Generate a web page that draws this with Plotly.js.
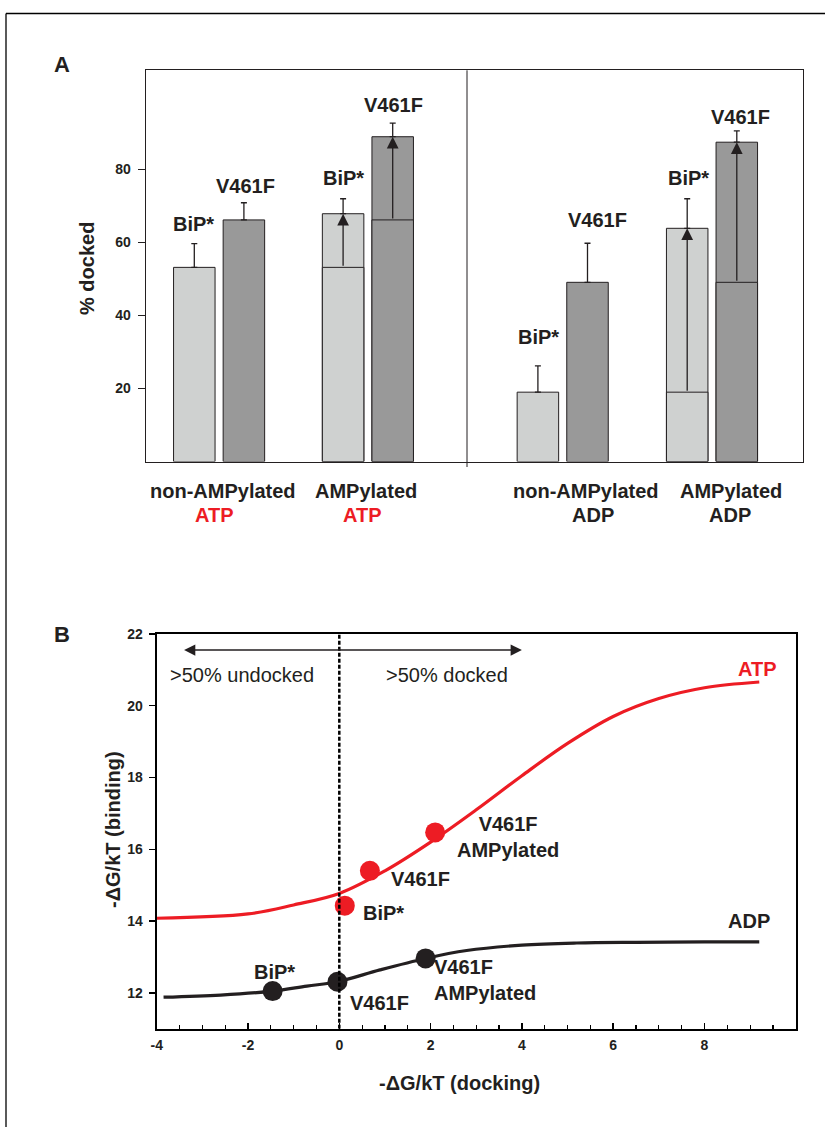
<!DOCTYPE html>
<html>
<head>
<meta charset="utf-8">
<script src="https://cdn.plot.ly/plotly-3.0.1.min.js"></script>
<style>html,body{margin:0;padding:0;background:#fff;}#chart{width:825px;height:1127px;}</style>
</head>
<body>
<div id="chart"></div>
<script>
// ---------------- DATA: panel A ----------------
const barLabels = ['BiP*', 'V461F', 'BiP*', 'V461F', 'BiP*', 'V461F', 'BiP*', 'V461F'];
const groupNames = ['non-AMPylated', 'AMPylated', 'non-AMPylated', 'AMPylated'];
const groupNucleotide = ['ATP', 'ATP', 'ADP', 'ADP'];
const dockedPct = [53.2, 66.2, 67.9, 89.0, 19.0, 49.1, 63.9, 87.5];
const dockedErrTop = [59.7, 70.9, 72.0, 92.7, 26.2, 59.8, 72.0, 90.6];
const dockedBefore = [null, null, 53.2, 66.2, null, null, 19.0, 49.1];
const yTicksA = [20, 40, 60, 80];

// ---------------- DATA: panel B ----------------
const atpCurveX = [-4.0, -2.0, -1.0, 0.0, 1.0, 2.0, 3.0, 4.0, 5.0, 6.0, 7.0, 8.0, 9.2];
const atpCurveY = [14.08, 14.2, 14.45, 14.77, 15.4, 16.2, 17.1, 18.05, 18.95, 19.7, 20.2, 20.5, 20.66];
const adpCurveX = [-3.85, -2.6, -1.46, -0.71, -0.04, 0.89, 1.89, 2.79, 4.0, 5.2, 6.5, 8.0, 9.2];
const adpCurveY = [11.88, 11.94, 12.05, 12.19, 12.31, 12.64, 12.96, 13.18, 13.33, 13.39, 13.41, 13.42, 13.42];
const pointLabels = ['BiP*', 'V461F', 'V461F<br>AMPylated'];
const atpPointX = [0.12, 0.67, 2.10];
const atpPointY = [14.43, 15.40, 16.47];
const adpPointX = [-1.46, -0.04, 1.89];
const adpPointY = [12.05, 12.31, 12.96];
const xTicksB = [-4, -2, 0, 2, 4, 6, 8];
const yTicksB = [12, 14, 16, 18, 20, 22];

// ---------------- LAYOUT constants ----------------
const W = 825, H = 1127;
const fx = px => px / W, fy = py => 1 - py / H;
const FONT = 'Liberation Sans, Arial, Helvetica, sans-serif';
const INK = '#231f20', RED = '#ed1c24';
const LIGHT = '#cfd1d0', DARK = '#999999';
const groupCenter = [73.4, 222.2, 417.0, 566.3];
const pairOffset = 24.8, barWidth = 41.5;
const barX = barLabels.map((_, i) => groupCenter[Math.floor(i / 2)] + (i % 2 === 0 ? -pairOffset : pairOffset));
const barColor = barLabels.map((_, i) => i % 2 === 0 ? LIGHT : DARK);
const labelLift = [20, 17, 21, 18, 29, 23, 21, 14];
const labelShiftX = [-1, 2, 0, 1, 1, 10, 1, 4];

const traces = [];
traces.push({
  type: 'bar', x: barX, y: dockedPct, width: barWidth, xaxis: 'x', yaxis: 'y',
  marker: {color: barColor, line: {color: INK, width: 1}},
  error_y: {type: 'data', symmetric: false,
    array: dockedErrTop.map((e, i) => e - dockedPct[i]),
    arrayminus: dockedPct.map(() => 0),
    color: INK, thickness: 1.3, width: 3},
  hoverinfo: 'skip'
});
const baseIdx = dockedBefore.map((v, i) => v === null ? -1 : i).filter(i => i >= 0);
traces.push({
  type: 'bar', x: baseIdx.map(i => barX[i]), y: baseIdx.map(i => dockedBefore[i]), width: barWidth,
  xaxis: 'x', yaxis: 'y',
  marker: {color: baseIdx.map(i => barColor[i]), line: {color: INK, width: 1}},
  hoverinfo: 'skip'
});
// panel B
traces.push({type: 'scatter', mode: 'lines', x: atpCurveX, y: atpCurveY, xaxis: 'x2', yaxis: 'y2',
  line: {color: RED, width: 3.2, shape: 'spline', smoothing: 1}, hoverinfo: 'skip'});
traces.push({type: 'scatter', mode: 'lines', x: adpCurveX, y: adpCurveY, xaxis: 'x2', yaxis: 'y2',
  line: {color: INK, width: 3.2, shape: 'spline', smoothing: 1}, hoverinfo: 'skip'});
traces.push({type: 'scatter', mode: 'markers', x: atpPointX, y: atpPointY, xaxis: 'x2', yaxis: 'y2',
  marker: {color: RED, size: 20}, hoverinfo: 'skip'});
traces.push({type: 'scatter', mode: 'markers', x: adpPointX, y: adpPointY, xaxis: 'x2', yaxis: 'y2',
  marker: {color: INK, size: 20}, hoverinfo: 'skip'});

const ann = [];
const txt = (o) => Object.assign({showarrow: false, xanchor: 'center', yanchor: 'middle',
  font: {family: FONT, size: 20, color: INK}}, o);
// panel letters
ann.push(txt({xref: 'paper', yref: 'paper', x: fx(62), y: fy(64), text: '<b>A</b>', font: {family: FONT, size: 22, color: INK}}));
ann.push(txt({xref: 'paper', yref: 'paper', x: fx(62), y: fy(634), text: '<b>B</b>', font: {family: FONT, size: 22, color: INK}}));
// A labels above bars
barLabels.forEach((t, i) => {
  ann.push(txt({xref: 'x', yref: 'y', x: barX[i], y: dockedErrTop[i], yshift: labelLift[i],
    xshift: labelShiftX[i], text: '<b>' + t + '</b>'}));
});
// A arrows
baseIdx.forEach(i => {
  ann.push({xref: 'x', yref: 'y', axref: 'x', ayref: 'y', x: barX[i], y: dockedPct[i], ax: barX[i], ay: dockedBefore[i],
    showarrow: true, arrowhead: 2, arrowsize: 1.8, arrowwidth: 1.3, arrowcolor: INK, standoff: 0, text: ''});
});
// A group labels
const nameShift = [4, -2, 23, 19], nucShift = [-5, -5, 30, 18];
groupNames.forEach((g, k) => {
  ann.push(txt({xref: 'x', yref: 'paper', x: groupCenter[k], y: fy(491), xshift: nameShift[k], text: '<b>' + g + '</b>'}));
  ann.push(txt({xref: 'x', yref: 'paper', x: groupCenter[k], y: fy(515), xshift: nucShift[k],
    text: '<b>' + groupNucleotide[k] + '</b>', font: {family: FONT, size: 20, color: groupNucleotide[k] === 'ATP' ? RED : INK}}));
});
// A y title
ann.push(txt({xref: 'paper', yref: 'paper', x: fx(87), y: fy(269), textangle: -90, text: '<b>% docked</b>'}));

// B labels
ann.push(txt({xref: 'x2', yref: 'y2', x: 9.17, y: 21.02, text: '<b>ATP</b>', font: {family: FONT, size: 20, color: RED}}));
ann.push(txt({xref: 'x2', yref: 'y2', x: 8.97, y: 14.01, text: '<b>ADP</b>'}));
ann.push(txt({xref: 'x2', yref: 'y2', x: 0.96, y: 14.22, text: '<b>' + pointLabels[0] + '</b>'}));
ann.push(txt({xref: 'x2', yref: 'y2', x: 1.77, y: 15.16, text: '<b>' + pointLabels[1] + '</b>'}));
ann.push(txt({xref: 'x2', yref: 'y2', x: 3.70, y: 16.33, text: '<b>' + pointLabels[2] + '</b>'}));
ann.push(txt({xref: 'x2', yref: 'y2', x: -1.41, y: 12.59, text: '<b>' + pointLabels[0] + '</b>'}));
ann.push(txt({xref: 'x2', yref: 'y2', x: 0.89, y: 11.71, text: '<b>' + pointLabels[1] + '</b>'}));
ann.push(txt({xref: 'x2', yref: 'y2', x: 2.03, y: 12.37, xanchor: 'left', align: 'left', text: '<b>' + pointLabels[2] + '</b>'}));
ann.push(txt({xref: 'paper', yref: 'paper', x: fx(242), y: fy(675), text: '>50% undocked'}));
ann.push(txt({xref: 'paper', yref: 'paper', x: fx(447), y: fy(675), text: '>50% docked'}));
// double arrow
ann.push({xref: 'x2', yref: 'y2', axref: 'x2', ayref: 'y2', x: 4.0, y: 21.55, ax: -0.05, ay: 21.55, showarrow: true,
  arrowhead: 2, arrowsize: 1.5, arrowwidth: 1.5, arrowcolor: INK, standoff: 0, text: ''});
ann.push({xref: 'x2', yref: 'y2', axref: 'x2', ayref: 'y2', x: -3.4, y: 21.55, ax: 0.05, ay: 21.55, showarrow: true,
  arrowhead: 2, arrowsize: 1.5, arrowwidth: 1.5, arrowcolor: INK, standoff: 0, text: ''});
// B axis titles
ann.push(txt({xref: 'paper', yref: 'paper', x: fx(459), y: fy(1083), text: '<b>-ΔG/kT (docking)</b>'}));
ann.push(txt({xref: 'paper', yref: 'paper', x: fx(113), y: fy(830), textangle: -90, text: '<b>-ΔG/kT (binding)</b>'}));

const shapes = [
  // outer frame
  {type: 'line', xref: 'paper', yref: 'paper', x0: fx(6), x1: 1, y0: fy(13.5), y1: fy(13.5), line: {color: '#000', width: 1.3}},
  {type: 'line', xref: 'paper', yref: 'paper', x0: fx(6), x1: fx(6), y0: fy(13.5), y1: 0, line: {color: '#000', width: 1.3}},
  // A divider
  {type: 'line', xref: 'paper', yref: 'paper', x0: fx(467), x1: fx(467), y0: fy(467), y1: fy(70.3), line: {color: INK, width: 1}},
  // B dashed zero line
  {type: 'line', xref: 'x2', yref: 'y2', x0: 0, x1: 0, y0: 11, y1: 22, line: {color: '#000', width: 2.5, dash: '4px,2px'}}
];

const tickFont = {family: FONT, size: 14, color: INK, weight: 'bold'};
const layout = {
  width: W, height: H, margin: {l: 0, r: 0, t: 0, b: 0},
  paper_bgcolor: '#fff', plot_bgcolor: '#fff', showlegend: false, barmode: 'overlay',
  font: {family: FONT, color: INK},
  xaxis: {domain: [fx(145.7), fx(803)], range: [0, 657.3], showticklabels: false, ticks: '', showgrid: false,
    zeroline: false, showline: true, mirror: true, linecolor: INK, linewidth: 1, anchor: 'y', fixedrange: true},
  yaxis: {domain: [fy(461.5), fy(70.3)], range: [0, 107.2], tickvals: yTicksA, ticktext: yTicksA.map(String),
    ticks: 'outside', ticklen: 7, tickwidth: 1, tickcolor: INK, tickfont: tickFont, ticklabelstandoff: 4,
    showgrid: false, zeroline: false, showline: true, mirror: true, linecolor: INK, linewidth: 1, anchor: 'x', fixedrange: true},
  xaxis2: {domain: [fx(156.7), fx(795.8)], range: [-4, 10], tickmode: 'array', tickvals: xTicksB, ticktext: xTicksB.map(String),
    ticks: 'inside', ticklen: 6, tickwidth: 1.5, tickcolor: '#000', tickfont: tickFont, ticklabelstandoff: 2,
    minor: {tickmode: 'linear', tick0: -4, dtick: 0.5, ticks: 'inside', ticklen: 4, tickwidth: 1.2, tickcolor: '#000', showgrid: false},
    showgrid: false, zeroline: false, showline: true, mirror: true, linecolor: '#000', linewidth: 2, anchor: 'y2', fixedrange: true},
  yaxis2: {domain: [fy(1028.8), fy(633.9)], range: [11, 22], tickmode: 'array', tickvals: yTicksB, ticktext: yTicksB.map(String),
    ticks: 'outside', ticklen: 6, tickwidth: 1.5, tickcolor: '#000', tickfont: tickFont, ticklabelstandoff: 3,
    showgrid: false, zeroline: false, showline: true, mirror: true, linecolor: '#000', linewidth: 2, anchor: 'x2', fixedrange: true},
  annotations: ann, shapes: shapes
};
Plotly.newPlot('chart', traces, layout, {staticPlot: true, displayModeBar: false});
</script>
</body>
</html>
